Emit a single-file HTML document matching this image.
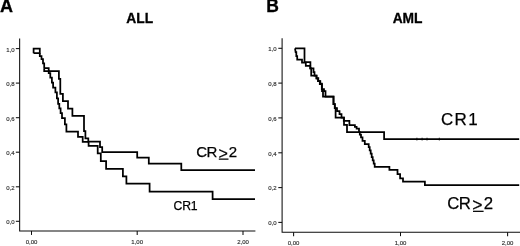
<!DOCTYPE html>
<html><head><meta charset="utf-8"><title>Figure</title>
<style>html,body{margin:0;padding:0;background:#fff}body{width:520px;height:246px;overflow:hidden}</style></head>
<body>
<svg width="520" height="246" viewBox="0 0 520 246" style="display:block">
<rect width="520" height="246" fill="#fff"/>
<g stroke="#0d0d0d" stroke-width="1.05" fill="none">
<path d="M19.65 38.5 V230.95 H255.4"/>
<path d="M15.85 48.6 H19.65"/>
<path d="M15.85 83.1 H19.65"/>
<path d="M15.85 117.7 H19.65"/>
<path d="M15.85 152.2 H19.65"/>
<path d="M15.85 186.8 H19.65"/>
<path d="M15.85 221.3 H19.65"/>
<path d="M31.5 230.95 V234.95"/>
<path d="M137.2 230.95 V234.95"/>
<path d="M243.0 230.95 V234.95"/>
</g>
<g font-family="'Liberation Sans', sans-serif" font-size="6" fill="#222" stroke="#444" stroke-width="0.15">
<text x="14.6" y="51.7" text-anchor="end">1,0</text>
<text x="14.6" y="86.2" text-anchor="end">0,8</text>
<text x="14.6" y="120.8" text-anchor="end">0,6</text>
<text x="14.6" y="155.3" text-anchor="end">0,4</text>
<text x="14.6" y="189.9" text-anchor="end">0,2</text>
<text x="14.6" y="224.4" text-anchor="end">0,0</text>
<text x="31.5" y="243.7" text-anchor="middle">0,00</text>
<text x="137.2" y="243.7" text-anchor="middle">1,00</text>
<text x="243.0" y="243.7" text-anchor="middle">2,00</text>
</g>
<g stroke="#0d0d0d" stroke-width="1.05" fill="none">
<path d="M282.1 38.2 V232.15 H520"/>
<path d="M278.30 48.3 H282.1"/>
<path d="M278.30 83.1 H282.1"/>
<path d="M278.30 117.9 H282.1"/>
<path d="M278.30 152.8 H282.1"/>
<path d="M278.30 187.6 H282.1"/>
<path d="M278.30 222.4 H282.1"/>
<path d="M293.6 232.15 V236.15"/>
<path d="M400.5 232.15 V236.15"/>
<path d="M507.6 232.15 V236.15"/>
</g>
<g font-family="'Liberation Sans', sans-serif" font-size="6" fill="#222" stroke="#444" stroke-width="0.15">
<text x="276.5" y="51.1" text-anchor="end">1,0</text>
<text x="276.5" y="85.9" text-anchor="end">0,8</text>
<text x="276.5" y="120.7" text-anchor="end">0,6</text>
<text x="276.5" y="155.6" text-anchor="end">0,4</text>
<text x="276.5" y="190.4" text-anchor="end">0,2</text>
<text x="276.5" y="225.2" text-anchor="end">0,0</text>
<text x="293.6" y="244.5" text-anchor="middle">0,00</text>
<text x="400.5" y="244.5" text-anchor="middle">1,00</text>
<text x="507.6" y="244.5" text-anchor="middle">2,00</text>
</g>
<g stroke="#000" stroke-width="1.75" fill="none" stroke-linejoin="miter" stroke-linecap="butt">
<path d="M33.6 53.2 L33.6 48.5 L39.8 48.5 L39.8 53.2 L33.6 53.2"/>
<path d="M39.8 53.2 L39.8 56.0 L41.5 56.0 L41.5 59.0 L43.0 59.0 L43.0 63.3 L44.2 63.3 L44.2 68.2"/>
<path d="M44.2 68.2 L44.2 71.0 L48.7 71.0 L48.7 73.2 L50.3 73.2 L50.3 77.6 L51.9 77.6 L51.9 82.5 L53.1 82.5 L53.1 87.6 L55.4 87.6 L55.4 92.4 L56.9 92.4 L56.9 98.4 L58.1 98.4 L58.1 103.9 L59.3 103.9 L59.3 108.3 L60.6 108.3 L60.6 113.0 L62.0 113.0 L62.0 118.0 L64.9 118.0 L64.9 124.4 L66.4 124.4 L66.4 131.7 L78.0 131.7 L78.0 136.8 L82.7 136.8 L82.7 141.8 L88.6 141.8 L88.6 145.8 L97.7 145.8 L97.7 153.4 L100.8 153.4 L100.8 161.2 L106.1 161.2 L106.1 168.8 L122.9 168.8 L122.9 176.4 L126.4 176.4 L126.4 183.6 L149.6 183.6 L149.6 191.5 L212.6 191.5 L212.6 199.1 L255.0 199.1"/>
<path d="M44.2 68.2 L48.7 68.2 L48.7 71.0 L58.9 71.0 L58.9 78.9 L60.3 78.9 L60.3 93.8 L62.9 93.8 L62.9 101.1 L68.0 101.1 L68.0 108.6 L72.4 108.6 L72.4 115.8 L84.0 115.8 L84.0 131.0 L85.4 131.0 L85.4 138.4 L88.3 138.4 L88.3 141.6 L100.0 141.6 L100.0 147.2 L102.2 147.2 L102.2 152.0 L137.2 152.0 L137.2 157.5 L148.8 157.5 L148.8 163.7 L181.3 163.7 L181.3 170.1 L255.0 170.1"/>
<path d="M295.0 48.3 L304.5 48.3 L304.5 62.0 L310.4 62.0 L310.4 68.3 L313.5 68.3 L313.5 72.0 L314.5 72.0 L314.5 75.5 L316.5 75.5 L316.5 78.0 L318.3 78.0 L318.3 81.0 L320.3 81.0 L320.3 83.5 L321.8 83.5 L321.8 89.0 L324.0 89.0 L324.0 91.0 L325.5 91.0 L325.5 96.7 L333.5 96.7 L333.5 104.0 L334.8 104.0 L334.8 108.0 L337.0 108.0 L337.0 111.0 L339.5 111.0 L339.5 114.0 L341.5 114.0 L341.5 117.7 L344.0 117.7 L344.0 124.9 L347.0 124.9 L347.0 132.1 L384.1 132.1 L384.1 139.1 L519.2 139.1"/>
<path d="M295.0 48.3 L295.6 52.0 L296.3 52.0 L296.3 56.0 L297.2 56.0 L297.2 59.5 L302.0 59.5 L302.0 62.5 L305.8 62.5 L305.8 65.8 L310.2 65.8 L310.2 68.3 L311.2 68.3 L311.2 75.5 L315.0 75.5 L316.5 75.5 L316.5 78.5 L318.0 78.5 L318.0 81.0 L319.8 81.0 L319.8 84.0 L322.0 84.0 L322.0 91.0 L323.0 91.0 L323.0 96.7 L333.5 96.7 L333.5 104.0 L334.8 104.0 L334.8 108.0 L335.6 108.0 L335.6 117.7 L343.8 117.7 L343.8 120.9 L349.4 120.9 L349.4 125.0 L354.9 125.0 L354.9 126.8 L356.6 126.8 L356.6 128.6 L359.0 128.6 L359.0 132.0 L359.8 132.0 L359.8 134.5 L361.0 134.5 L361.0 137.3 L362.5 137.3 L362.5 140.8 L364.8 140.8 L364.8 144.0 L368.7 144.0 L368.7 147.2 L369.7 147.2 L369.7 150.4 L370.7 150.4 L370.7 153.7 L371.7 153.7 L371.7 157.0 L372.7 157.0 L372.7 160.3 L373.7 160.3 L373.7 163.5 L374.7 163.5 L374.7 166.8 L375.7 166.8 L389.4 166.8 L389.4 169.9 L397.5 169.9 L397.5 174.0 L400.1 174.0 L400.1 178.3 L403.0 178.3 L403.0 181.5 L424.9 181.5 L424.9 185.0 L519.2 185.0"/>
<path d="M416.9 137.7 V140.5" stroke-width="0.8"/>
<path d="M422.1 137.7 V140.5" stroke-width="0.8"/>
<path d="M427.0 137.7 V140.5" stroke-width="0.8"/>
<path d="M439.3 137.7 V140.5" stroke-width="0.8"/>
</g>
<text x="0.1" y="12.3" font-family="'Liberation Sans', sans-serif" font-size="18" font-weight="bold" fill="#000" stroke="#000" stroke-width="0.3">A</text>
<text x="266.3" y="12.3" font-family="'Liberation Sans', sans-serif" font-size="17.5" font-weight="bold" fill="#000" stroke="#000" stroke-width="0.3">B</text>
<text x="139.7" y="23.35" font-family="'Liberation Sans', sans-serif" font-size="13.8" font-weight="bold" fill="#000" stroke="#000" stroke-width="0.3" text-anchor="middle">ALL</text>
<text x="407.6" y="23.35" font-family="'Liberation Sans', sans-serif" font-size="13.8" font-weight="bold" fill="#000" stroke="#000" stroke-width="0.3" text-anchor="middle">AML</text>
<text x="173.6 182.3 190.7" y="209.5" font-family="'Liberation Sans', sans-serif" font-size="12.2" fill="#000" stroke="#000" stroke-width="0.25">CR1</text>
<text x="196.2 206.5" y="156.9" font-family="'Liberation Sans', sans-serif" font-size="15" fill="#000" stroke="#000" stroke-width="0.25">CR</text>
<text x="218.4" y="158.8" font-family="'Liberation Sans', sans-serif" font-size="16" fill="#000" stroke="#000" stroke-width="0.25">&gt;</text>
<text x="228.85" y="156.9" font-family="'Liberation Sans', sans-serif" font-size="15" fill="#000" stroke="#000" stroke-width="0.25">2</text>
<rect x="218.8" y="158.5" width="9.7" height="1.25" fill="#000"/>
<text x="441.1 454.4 468.2" y="125.0" font-family="'Liberation Sans', sans-serif" font-size="17" fill="#000" stroke="#000" stroke-width="0.25">CR1</text>
<text x="447.25 458.65" y="209.2" font-family="'Liberation Sans', sans-serif" font-size="16.8" fill="#000" stroke="#000" stroke-width="0.25">CR</text>
<text x="472.3" y="211.2" font-family="'Liberation Sans', sans-serif" font-size="17.5" fill="#000" stroke="#000" stroke-width="0.25">&gt;</text>
<text x="483.8" y="209.2" font-family="'Liberation Sans', sans-serif" font-size="16.8" fill="#000" stroke="#000" stroke-width="0.25">2</text>
<rect x="473" y="210.7" width="10.6" height="1.25" fill="#000"/>
</svg>
</body></html>
